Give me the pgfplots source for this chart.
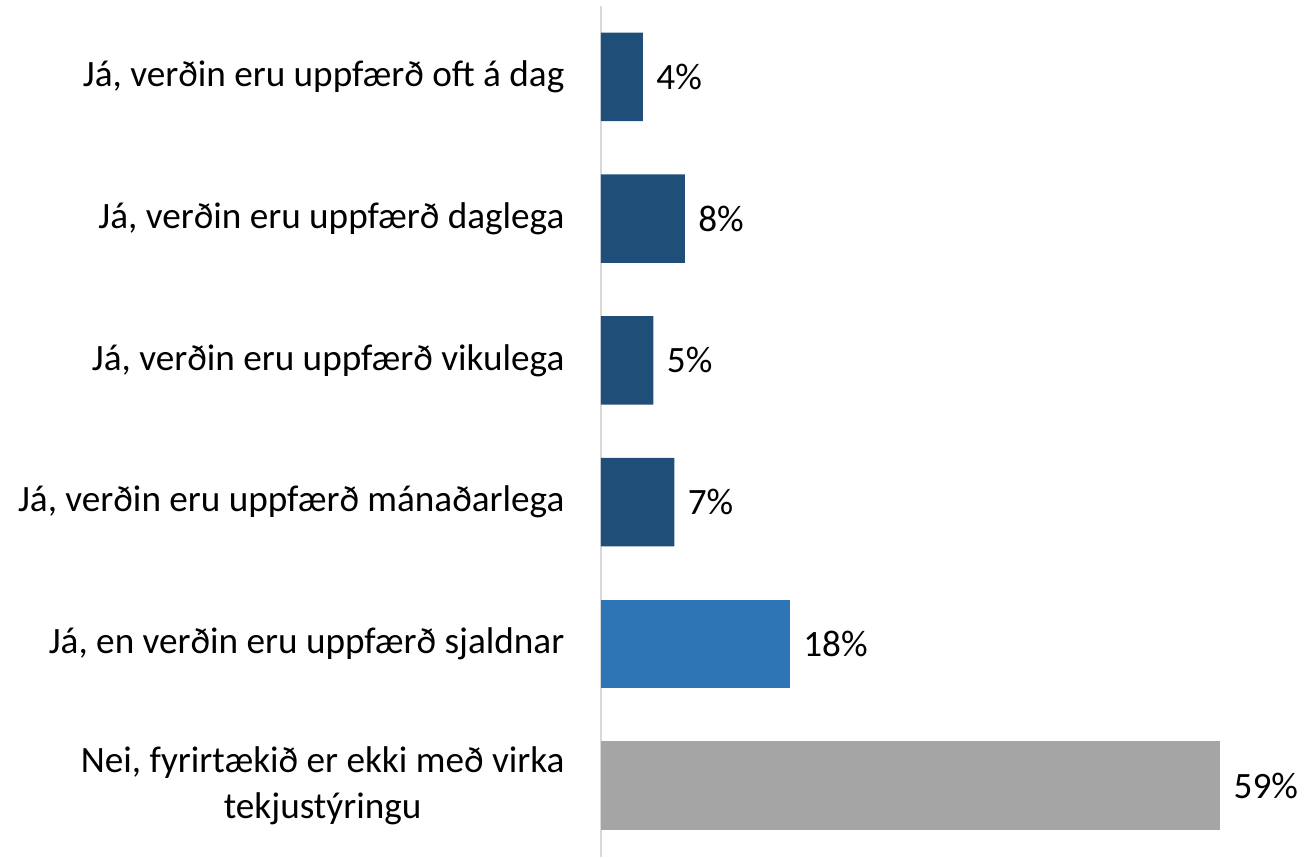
\documentclass[border=0pt]{standalone}
\usepackage{pgfplots}
\pgfplotsset{compat=1.18}
\usepackage{fontspec}
\setmainfont{Carlito}
\definecolor{darkblue}{HTML}{1F4E79}
\definecolor{midblue}{HTML}{2E75B6}
\definecolor{barGray}{HTML}{A5A5A5}
\definecolor{axisGray}{HTML}{D9D9D9}
\begin{document}
\begin{tikzpicture}[font=\fontsize{18.5}{22.5}\selectfont]
\begin{axis}[xbar,x=5.22pt,y=70.5pt,y dir=reverse,
xmin=0,xmax=60,ymin=-0.5,ymax=5.5,
bar width=44pt,bar shift=0pt,
axis x line=none,axis y line=left,
axis line style={-,draw=axisGray,line width=1pt},
ytick={0,...,5},major tick length=0pt,
yticklabels={{Já, verðin eru uppfærð oft á dag},{Já, verðin eru uppfærð daglega},{Já, verðin eru uppfærð vikulega},{Já, verðin eru uppfærð mánaðarlega},{Já, en verðin eru uppfærð sjaldnar},{Nei, fyrirtækið er ekki með virka\\tekjustýringu}},
yticklabel style={align=center,inner sep=0pt,xshift=-18pt,text=black},
/pgf/number format/assume math mode=true,
point meta=x,nodes near coords={\pgfmathprintnumber{\pgfplotspointmeta}\%},
every node near coord/.append style={anchor=west,inner sep=0pt,xshift=6.5pt,text=black},
clip=false]
\addplot[fill=darkblue,draw=none] coordinates {(4,0)(8,1)(5,2)(7,3)};
\addplot[fill=midblue,draw=none] coordinates {(18,4)};
\addplot[fill=barGray,draw=none] coordinates {(59,5)};
\end{axis}
\path (current bounding box.north west) ++(-9pt,2.5pt);
\path (current bounding box.south east) ++(3pt,0pt);
\end{tikzpicture}
\end{document}
